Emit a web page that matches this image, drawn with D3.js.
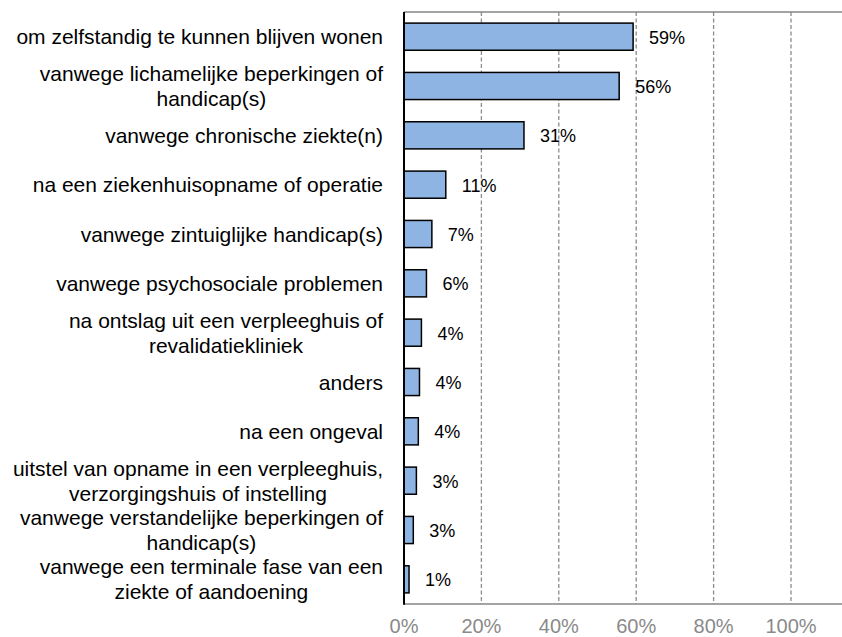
<!DOCTYPE html>
<html>
<head>
<meta charset="utf-8">
<script src="https://cdn.jsdelivr.net/npm/d3@7"></script>
<style>
  html, body { margin: 0; padding: 0; background: #fff; }
  svg { display: block; font-family: "Liberation Sans", Arial, Helvetica, sans-serif; }
</style>
</head>
<body>
<svg id="chart" width="842" height="637"></svg>
<script>
const categories = [
  "om zelfstandig te kunnen blijven wonen",
  "vanwege lichamelijke beperkingen of\nhandicap(s)",
  "vanwege chronische ziekte(n)",
  "na een ziekenhuisopname of operatie",
  "vanwege zintuiglijke handicap(s)",
  "vanwege psychosociale problemen",
  "na ontslag uit een verpleeghuis of\nrevalidatiekliniek",
  "anders",
  "na een ongeval",
  "uitstel van opname in een verpleeghuis,\nverzorgingshuis of instelling",
  "vanwege verstandelijke beperkingen of\nhandicap(s)",
  "vanwege een terminale fase van een\nziekte of aandoening"
];
const values = [59.2, 55.6, 31.0, 10.8, 7.2, 5.8, 4.5, 4.0, 3.7, 3.2, 2.4, 1.3];
const valueLabels = ["59%", "56%", "31%", "11%", "7%", "6%", "4%", "4%", "4%", "3%", "3%", "1%"];
const ticks = [0, 20, 40, 60, 80, 100];
const tickLabels = ["0%", "20%", "40%", "60%", "80%", "100%"];

(function () {
const svg = d3.select("#chart");
const W = 842;
const pLeft = 404, pTop = 12, pBottom = 604;

const x = d3.scaleLinear().domain([0, 100]).range([pLeft, 791]);
const y = d3.scaleBand().domain(categories).range([pTop, pBottom])
  .paddingInner(0.45).paddingOuter(0.225);

// gridlines
svg.append("g").selectAll("line").data(ticks.slice(1)).join("line")
  .attr("x1", d => x(d)).attr("x2", d => x(d))
  .attr("y1", pTop).attr("y2", pBottom)
  .attr("stroke", "#8c8c8c").attr("stroke-width", 1.3)
  .attr("stroke-dasharray", "4,2.5");

// top and bottom frame lines
svg.append("line").attr("x1", pLeft).attr("x2", W).attr("y1", pTop).attr("y2", pTop)
  .attr("stroke", "#868686").attr("stroke-width", 1.5);
svg.append("line").attr("x1", pLeft).attr("x2", W).attr("y1", pBottom).attr("y2", pBottom)
  .attr("stroke", "#868686").attr("stroke-width", 1.5);

// bars
svg.append("g").selectAll("rect").data(categories).join("rect")
  .attr("x", x(0))
  .attr("y", d => y(d))
  .attr("width", (d, i) => x(values[i]) - x(0))
  .attr("height", y.bandwidth())
  .attr("fill", "#8EB4E3")
  .attr("stroke", "#000").attr("stroke-width", 1.5);

// left axis line
svg.append("line").attr("x1", pLeft).attr("x2", pLeft).attr("y1", pTop).attr("y2", pBottom + 0.75)
  .attr("stroke", "#000").attr("stroke-width", 2);

// value labels
svg.append("g").selectAll("text").data(categories).join("text")
  .attr("x", (d, i) => x(values[i]) + 16)
  .attr("y", d => y(d) + y.bandwidth() / 2 + 1)
  .attr("dominant-baseline", "central")
  .attr("font-size", 18)
  .attr("fill", "#000")
  .text((d, i) => valueLabels[i]);

// x tick labels
svg.append("g").selectAll("text").data(ticks).join("text")
  .attr("x", d => x(d))
  .attr("y", 626)
  .attr("text-anchor", "middle")
  .attr("dominant-baseline", "central")
  .attr("font-size", 20)
  .attr("fill", "#8a8a8a")
  .text((d, i) => tickLabels[i]);

// category labels (wrapped, block right-aligned, lines centered)
const labelRight = 383;
const lh = 25.2;
const catG = svg.append("g");
categories.forEach(c => {
  const lines = c.split("\n");
  const g = catG.append("g");
  const texts = lines.map(ln => g.append("text")
    .attr("font-size", 21)
    .attr("fill", "#000")
    .attr("text-anchor", "middle")
    .attr("dominant-baseline", "central")
    .text(ln));
  const maxW = d3.max(texts, t => t.node().getComputedTextLength());
  const cy = y(c) + y.bandwidth() / 2;
  texts.forEach((t, j) => {
    t.attr("x", labelRight - maxW / 2)
     .attr("y", cy + (j - (lines.length - 1) / 2) * lh);
  });
});
})();
</script>
</body>
</html>
